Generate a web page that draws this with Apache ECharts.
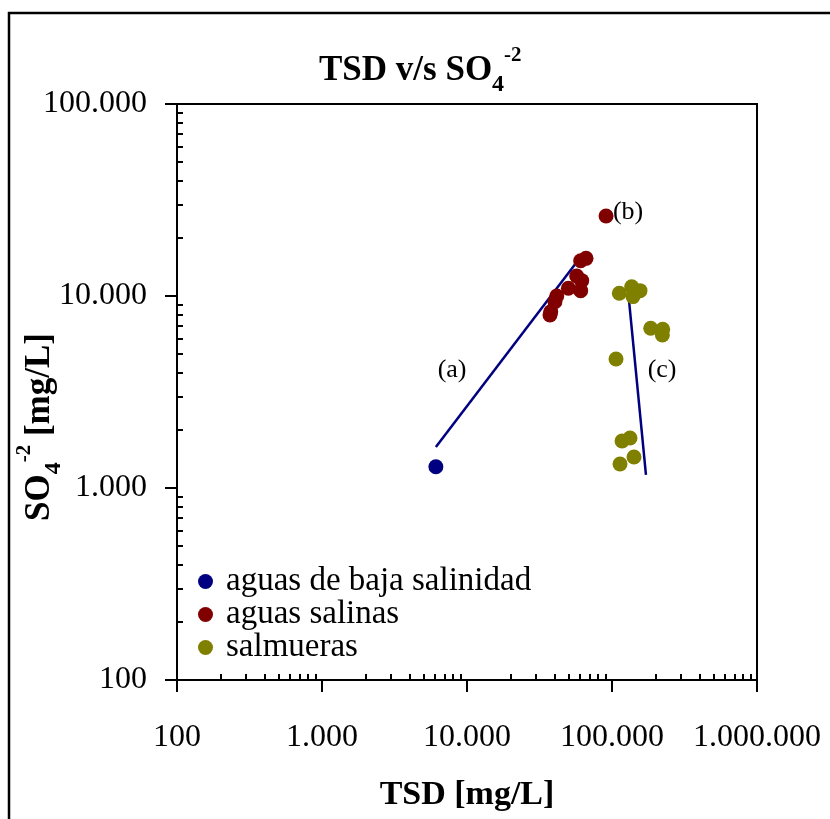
<!DOCTYPE html>
<html><head><meta charset="utf-8">
<script src="https://cdn.jsdelivr.net/npm/echarts@6/dist/echarts.min.js"></script>
<style>html,body{margin:0;padding:0;background:#fff}#c{width:830px;height:819px}</style>
</head><body><div id="c"></div>
<script>
// ---- data ----
const xRange = [100, 1000000];
const yRange = [100, 100000];
const bajaSalinidad = [[6100, 1290]];
const aguasSalinas = [[60800,15270],[66200,15710],[57100,12700],[61800,12020],[50000,10970],[60800,10660],[41600,10000],[40400,9340],[37800,8280],[37350,7960],[91000,26100]];
const salmueras = [[112300,10330],[136700,11180],[148000,10520],[156000,10660],[139500,9930],[184900,6790],[223800,6710],[222500,6260],[106600,4700],[117300,1757],[133100,1820],[141800,1450],[113600,1334]];
const trendA = [[6100,1635],[56500,14860]];
const trendC = [[128900,10750],[171500,1169]];
const annotations = [['(a)',7890,4120],['(b)',129000,27380],['(c)',221500,4120]];
const seriesNames = ['aguas de baja salinidad','aguas salinas','salmueras'];

const FF = "'Liberation Serif','Times New Roman',serif";
const fmt = v => String(Math.round(v)).replace(/\B(?=(\d{3})+(?!\d))/g, '.');

function axisCommon(min, max) {
  return {
    type: 'log', logBase: 10, min: min, max: max,
    axisLine: {show: true, lineStyle: {color: '#000', width: 2}},
    axisTick: {show: true, inside: false, length: 12, lineStyle: {color: '#000', width: 2}},
    minorTick: {show: true, splitNumber: 9, length: -6, lineStyle: {color: '#000', width: 2}},
    splitLine: {show: false},
    minorSplitLine: {show: false},
    axisLabel: {formatter: fmt, fontFamily: FF, fontSize: 32, color: '#000'}
  };
}

const xAxis = axisCommon(xRange[0], xRange[1]);
xAxis.axisLabel.margin = 42;
const yAxis = axisCommon(yRange[0], yRange[1]);
yAxis.axisLabel.margin = 30;

const richSubSup = {
  sub: {fontFamily: FF, fontSize: 24, fontWeight: 'bold', color: '#000', fill: '#000', lineHeight: 20, verticalAlign: 'bottom'},
  sup: {fontFamily: FF, fontSize: 21, fontWeight: 'bold', color: '#000', fill: '#000', lineHeight: 22, verticalAlign: 'top'}
};

const chart = echarts.init(document.getElementById('c'));
chart.setOption({
  backgroundColor: '#fff',
  animation: false,
  title: {
    text: 'TSD v/s SO{sub|4}{sup|-2}',
    left: 314, top: 40,
    textStyle: {
      fontFamily: FF, fontSize: 35, fontWeight: 'bold', color: '#000', lineHeight: 52,
      rich: richSubSup
    }
  },
  grid: {left: 177, top: 104, width: 580, height: 576, show: true, borderColor: '#000', borderWidth: 2, containLabel: false, outerBoundsMode: 'none'},
  xAxis: Object.assign(xAxis, {
    name: 'TSD [mg/L]', nameLocation: 'middle', nameGap: 98,
    nameTextStyle: {fontFamily: FF, fontSize: 34, fontWeight: 'bold', color: '#000'}
  }),
  yAxis: yAxis,
  legend: {
    data: seriesNames, orient: 'vertical', left: 193, top: 560, itemGap: 0,
    itemWidth: 15, itemHeight: 15, icon: 'circle',
    textStyle: {fontFamily: FF, fontSize: 33, color: '#000', lineHeight: 32.5, padding: [0, 0, 0, 8]}
  },
  graphic: [
    {type: 'rect', shape: {x: 9, y: 13, width: 1000, height: 1000}, style: {fill: 'none', stroke: '#000', lineWidth: 2.5}, silent: true, z: 100},
    {type: 'text', x: 40, y: 427, rotation: Math.PI / 2,
      style: {
        text: 'SO{sub|4}{sup|-2} [mg/L]', fontFamily: FF, fontSize: 35, fontWeight: 'bold', fill: '#000',
        align: 'center', verticalAlign: 'middle', lineHeight: 52,
        rich: richSubSup
      }}
  ],
  series: [
    {type: 'line', data: trendA, symbol: 'none', lineStyle: {color: '#000080', width: 2.5}, silent: true, z: 1},
    {type: 'line', data: trendC, symbol: 'none', lineStyle: {color: '#000080', width: 2.5}, silent: true, z: 1},
    {name: seriesNames[0], type: 'scatter', data: bajaSalinidad, symbolSize: 15, itemStyle: {color: '#000080', opacity: 1}, z: 3},
    {name: seriesNames[1], type: 'scatter', data: aguasSalinas, symbolSize: 15, itemStyle: {color: '#800000', opacity: 1}, z: 3},
    {name: seriesNames[2], type: 'scatter', data: salmueras, symbolSize: 15, itemStyle: {color: '#808000', opacity: 1}, z: 3},
    {type: 'scatter', data: annotations.map(a => ({value: [a[1], a[2]], name: a[0]})), symbolSize: 0, silent: true,
      label: {show: true, position: 'inside', formatter: p => p.name, fontFamily: FF, fontSize: 26, color: '#000', textBorderWidth: 0, opacity: 1}, z: 4}
  ]
});
</script></body></html>
